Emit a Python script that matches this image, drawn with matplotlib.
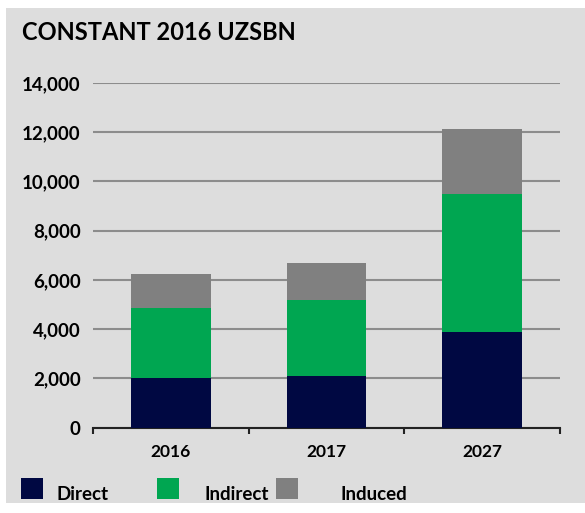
import matplotlib
matplotlib.use("Agg")
import matplotlib.pyplot as plt
from matplotlib.patches import Rectangle
from matplotlib.ticker import FuncFormatter

# Data (constant 2016 UZS bn)
years = ["2016", "2017", "2027"]
direct = [2000, 2100, 3900]
indirect = [2850, 3100, 5600]
induced = [1400, 1500, 2650]
series_names = ["Direct", "Indirect", "Induced"]
colors = ["#000842", "#00A651", "#808080"]

plt.rcParams['font.family'] = ['Lato', 'DejaVu Sans']

W, H = 585, 513
fig = plt.figure(figsize=(W / 100, H / 100), dpi=100, facecolor="white")

# gray panel behind everything
fig.patches.append(Rectangle((6 / W, 1 - 503 / H), 1, (503 - 8) / H,
                             transform=fig.transFigure, facecolor="#DDDDDD",
                             edgecolor="none", zorder=-10))

ax = fig.add_axes([93 / W, 1 - 427.7 / H, (560 - 93) / W, (427.7 - 83) / H])
ax.set_facecolor("none")

x = range(len(years))
bottom1 = direct
bottom2 = [a + b for a, b in zip(direct, indirect)]
ax.bar(x, direct, width=0.51, color=colors[0], zorder=3)
ax.bar(x, indirect, width=0.51, bottom=bottom1, color=colors[1], zorder=3)
ax.bar(x, induced, width=0.51, bottom=bottom2, color=colors[2], zorder=3)

ax.set_xlim(-0.5, 2.5)
ax.set_ylim(0, 14000)
ax.set_yticks(range(0, 14001, 2000))
ax.yaxis.set_major_formatter(FuncFormatter(lambda v, p: f"{int(v):,}"))
ax.yaxis.grid(True, color="#8C8C8C", linewidth=1.5, zorder=0)
ax.set_axisbelow(True)

for s in ["top", "right", "left"]:
    ax.spines[s].set_visible(False)
ax.spines["bottom"].set_color("#222222")
ax.spines["bottom"].set_linewidth(1.5)

ax.set_xticks([-0.5, 0.5, 1.5, 2.5])
ax.set_xticklabels([])
ax.set_xticks(list(x), minor=True)
ax.set_xticklabels(years, minor=True)
ax.tick_params(axis="x", which="major", length=4, width=1.5, color="#222222", direction="out")
ax.tick_params(axis="x", which="minor", length=0, pad=12, labelsize=12.5)
ax.tick_params(axis="y", length=0, pad=9, labelsize=13.5)
for lab in ax.get_xticklabels(minor=True) + ax.get_yticklabels():
    lab.set_fontweight("bold")

fig.text(22 / W, 1 - 33 / H, "CONSTANT 2016 UZSBN", fontsize=17, fontweight="bold",
         ha="left", va="center")

# legend laid out like the original
sq_x = [21, 157, 276]
txt_x = [57, 205, 340]
for name, c, sx, tx in zip(series_names, colors, sq_x, txt_x):
    fig.patches.append(Rectangle((sx / W, 1 - 499 / H), 22 / W, 21 / H,
                                 transform=fig.transFigure, facecolor=c,
                                 edgecolor="none"))
    fig.text(tx / W, 1 - 495 / H, name, fontsize=13.5, fontweight="bold",
             ha="left", va="center")

fig.savefig("out.png", dpi=100, facecolor="white")
